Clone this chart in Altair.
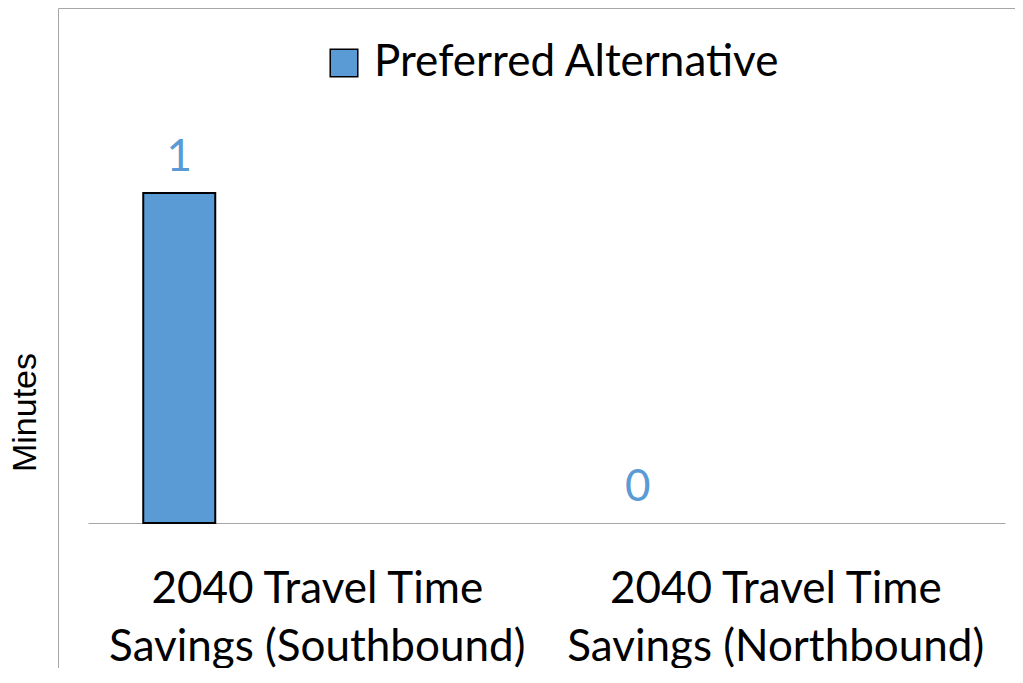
import altair as alt
import pandas as pd

categories = ["2040 Travel Time Savings (Southbound)", "2040 Travel Time Savings (Northbound)"]
values = [1, 0]
series = ["Preferred Alternative", "Preferred Alternative"]

df = pd.DataFrame({"category": categories, "value": values, "series": series})

BLUE = "#5B9BD5"
GRAY = "#A6A6A6"
W, H = 977, 690
BASE = 515  # baseline in view coords

x_enc = alt.X(
    "category:N",
    sort=categories,
    scale=alt.Scale(range=[30, 947], paddingInner=0, paddingOuter=0),
    axis=alt.Axis(
        title=None,
        orient="bottom",
        offset=-(H - BASE),
        domainColor=GRAY,
        domainWidth=1,
        ticks=False,
        grid=False,
        labelAngle=0,
        labelFont="Lato",
        labelFontSize=44,
        labelColor="black",
        labelLineHeight=58,
        labelPadding=44,
        labelLimit=2000,
        labelExpr="split(replace(datum.label, ' Savings', '|Savings'), '|')",
    ),
)
y_enc = alt.Y(
    "value:Q",
    scale=alt.Scale(domain=[0, 1.2], range=[BASE, 119], nice=False, zero=True),
    axis=alt.Axis(
        title="Minutes",
        domain=False,
        ticks=False,
        labels=False,
        grid=False,
        titleFont="Liberation Sans",
        titleFontSize=34,
        titleFontWeight="normal",
        titleColor="black",
        titleAngle=270,
        titleBaseline="bottom",
        titleX=-16,
        titleY=404,
    ),
)

bars = alt.Chart(df).mark_bar(size=72, stroke="black", strokeWidth=2, xOffset=-138).encode(
    x=x_enc,
    y=y_enc,
    strokeOpacity=alt.condition("datum.value > 0", alt.value(1), alt.value(0)),
    color=alt.Color(
        "series:N",
        scale=alt.Scale(domain=["Preferred Alternative"], range=[BLUE]),
        legend=alt.Legend(
            title=None,
            orient="none",
            legendX=264,
            legendY=33,
            symbolType="square",
            symbolSize=760,
            symbolStrokeColor="black",
            symbolStrokeWidth=1.5,
            labelFont="Lato",
            labelFontSize=44,
            labelColor="black",
            labelOffset=8,
            labelLimit=2000,
        ),
    ),
)

labels = alt.Chart(df).mark_text(
    font="Lato", fontSize=44, color=BLUE, dy=-22, xOffset=-138, baseline="alphabetic"
).encode(x=x_enc, y=y_enc, text=alt.Text("value:Q"))

chart = (
    alt.layer(bars, labels)
    .properties(
        width=W,
        height=H,
        autosize=alt.AutoSizeParams(type="none"),
        padding={"left": 50, "top": 0, "right": -20, "bottom": -30},
    )
    .configure_view(stroke=GRAY, strokeWidth=1)
)

chart.save("out.html", embed_options={"renderer": "svg", "actions": False})
